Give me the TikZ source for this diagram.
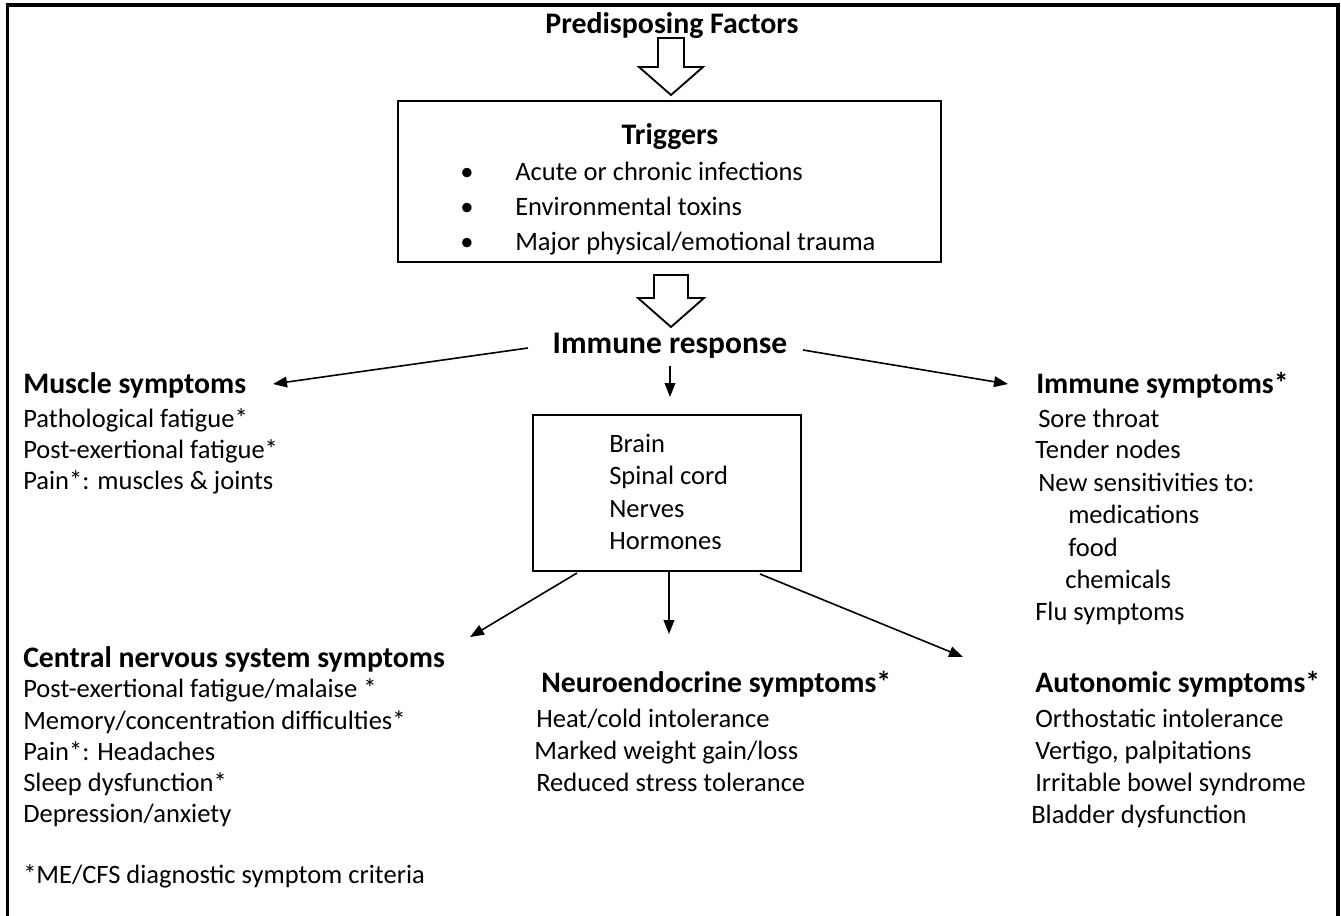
\documentclass[tikz,border=0pt]{standalone}
\usepackage{fontspec}
\setmainfont{Carlito}
\usetikzlibrary{arrows.meta,fit}
\begin{document}
\begin{tikzpicture}[x=0.75pt,y=-0.75pt,
  body/.style={anchor=base west,inner sep=0pt,font=\fontsize{19.9}{24}\selectfont},
  head/.style={anchor=base west,inner sep=0pt,font=\fontsize{22.3}{27}\selectfont\bfseries},
  title/.style={anchor=base,inner sep=0pt,font=\fontsize{22.4}{27}\selectfont\bfseries},
  conn/.style={line width=1.2pt,-{Triangle[length=10.5pt,width=8pt]}},
  hollow/.style={draw,line width=1.4pt,fill=white,line join=miter},
  boxst/.style={draw,line width=1.4pt,inner sep=0pt}]
\useasboundingbox (0,0) rectangle (1341,915);
% outer frame (bottom edge outside picture)
\draw[line width=2.4pt] (7.5,930) -- (7.5,5) -- (1338,5) -- (1338,930);

% top
\node[title] (pre) at (672,33) {Predisposing Factors};
\coordinate (a1) at (671,38);
\draw[hollow] (a1) ++(-13,0) -- ++(26,0) -- ++(0,29) -- ++(19,0) -- ++(-32,28)
  -- ++(-32,-28) -- ++(19,0) -- cycle;

% triggers box
\node[boxst,fit={(398,101) (941,262)}] (trigbox) {};
\node[title] (trig) at (670,144) {Triggers};
\node[body] (b1) at (460,180) {\textbullet};
\node[body] (b2) at (460,215) {\textbullet};
\node[body] (b3) at (460,250) {\textbullet};
\node[body] (t1) at (515,180) {Acute or chronic infections};
\node[body] (t2) at (515,215) {Environmental toxins};
\node[body] (t3) at (515,250) {Major physical/emotional trauma};

\coordinate (a2) at (671,275);
\draw[hollow] (a2) ++(-17,0) -- ++(34,0) -- ++(0,23) -- ++(16,0) -- ++(-33,29)
  -- ++(-33,-29) -- ++(16,0) -- cycle;

\node[anchor=base,inner sep=0pt,font=\fontsize{23.6}{28}\selectfont\bfseries] (imm) at (670,353) {Immune response};

% muscle
\node[head] (mus) at (23,393) {Muscle symptoms};
\node[body] (m1) at (23,427) {Pathological fatigue*};
\node[body] (m2) at (23,458) {Post-exertional fatigue*};
\node[body] (m3) at (23,489) {Pain*: muscles \& joints};

% immune symptoms
\node[head] (ims) at (1036,393) {Immune symptoms*};
\node[body] (i1) at (1038,427) {Sore throat};
\node[body] (i2) at (1035,458) {Tender nodes};
\node[body] (i3) at (1038,491) {New sensitivities to:};
\node[body] (i4) at (1068,523) {medications};
\node[body] (i5) at (1068,556) {food};
\node[body] (i6) at (1065,588) {chemicals};
\node[body] (i7) at (1035,620) {Flu symptoms};

% central box
\node[boxst,fit={(533,415) (801,571)}] (cbox) {};
\node[body] (c1) at (609,452) {Brain};
\node[body] (c2) at (609,484) {Spinal cord};
\node[body] (c3) at (609,517) {Nerves};
\node[body] (c4) at (609,549) {Hormones};

% CNS
\node[head] (cns) at (23,667) {Central nervous system symptoms};
\node[body] (n1) at (23,697) {Post-exertional fatigue/malaise *};
\node[body] (n2) at (23,729) {Memory/concentration difficulties*};
\node[body] (n3) at (23,760) {Pain*: Headaches};
\node[body] (n4) at (23,791) {Sleep dysfunction*};
\node[body] (n5) at (23,822) {Depression/anxiety};
\node[body] (fn) at (23,883) {*ME/CFS diagnostic symptom criteria};

% neuroendocrine
\node[head] (neu) at (541,692) {Neuroendocrine symptoms*};
\node[body] (e1) at (536,727) {Heat/cold intolerance};
\node[body] (e2) at (534,759) {Marked weight gain/loss};
\node[body] (e3) at (536,791) {Reduced stress tolerance};

% autonomic
\node[head] (aut) at (1035,692) {Autonomic symptoms*};
\node[body] (u1) at (1035,727) {Orthostatic intolerance};
\node[body] (u2) at (1035,759) {Vertigo, palpitations};
\node[body] (u3) at (1035,791) {Irritable bowel syndrome};
\node[body] (u4) at (1031,823) {Bladder dysfunction};

% connector end points
\coordinate (imL) at (528,348);
\coordinate (imR) at (803,350);
\coordinate (imB) at (670,366);
\coordinate (musE) at (273,384);
\coordinate (imsW) at (1008,384);
\coordinate (cboxT) at (670,397);
\coordinate (cbL) at (577,573);
\coordinate (cbM) at (669,571);
\coordinate (cbR) at (760,574);
\coordinate (cnsE) at (470,637);
\coordinate (neuN) at (669,634);
\coordinate (autW) at (963,657);

\draw[conn] (imL) -- (musE);
\draw[conn] (imR) -- (imsW);
\draw[conn] (imB) -- (cboxT);
\draw[conn] (cbL) -- (cnsE);
\draw[conn] (cbM) -- (neuN);
\draw[conn] (cbR) -- (autW);
\end{tikzpicture}
\end{document}
